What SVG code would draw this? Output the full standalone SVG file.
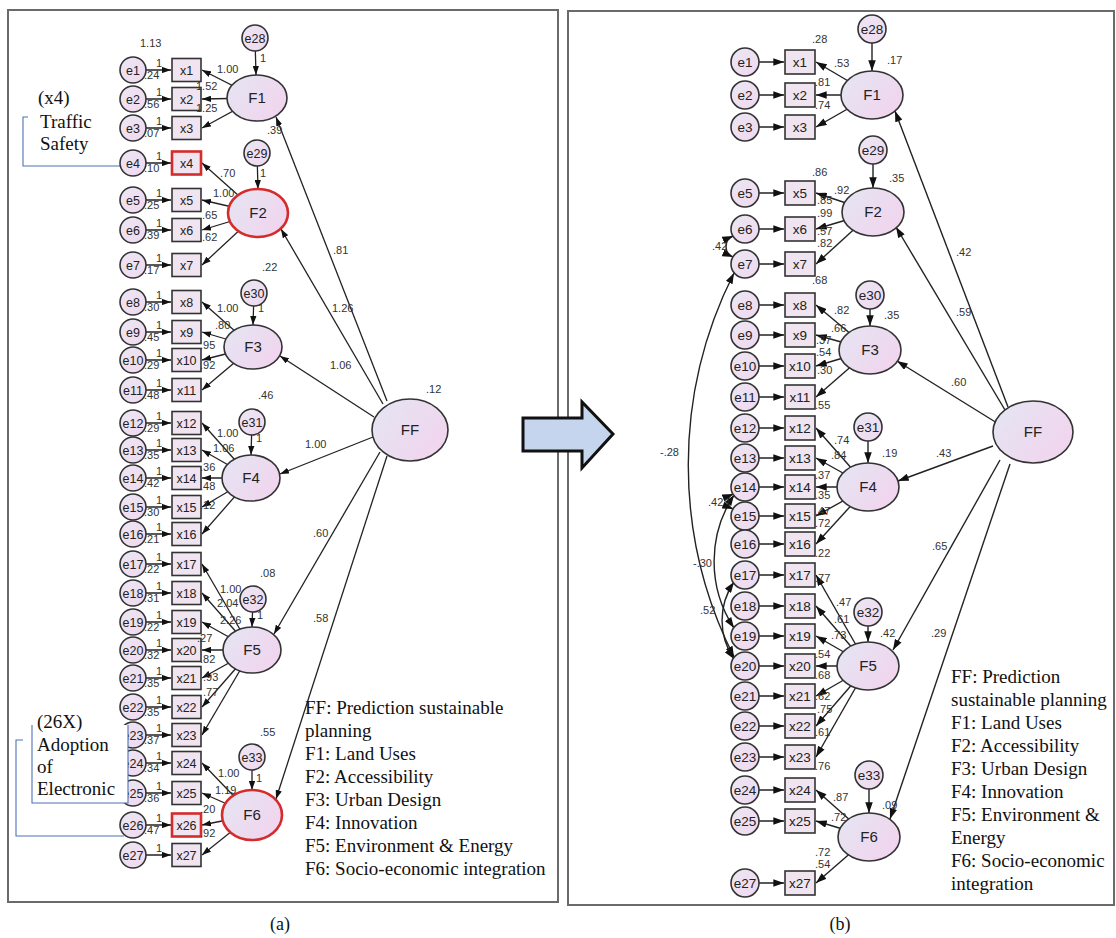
<svg xmlns="http://www.w3.org/2000/svg" width="1116" height="938" viewBox="0 0 1116 938">
<defs>
<linearGradient id="gc" x1="0" y1="0" x2="1" y2="1"><stop offset="0" stop-color="#ebe7f3"/><stop offset="1" stop-color="#f0d8ef"/></linearGradient>
<linearGradient id="ge" x1="0" y1="0" x2="1" y2="0.6"><stop offset="0" stop-color="#e4e6f3"/><stop offset="1" stop-color="#f1d5ee"/></linearGradient>
<marker id="ah" viewBox="0 0 10 7" refX="10" refY="3.5" markerWidth="9" markerHeight="6.5" markerUnits="userSpaceOnUse" orient="auto-start-reverse"><path d="M0,0 L10,3.5 L0,7 z" fill="#111"/></marker>
<marker id="ah2" viewBox="0 0 10 7" refX="10" refY="3.5" markerWidth="11" markerHeight="7.5" markerUnits="userSpaceOnUse" orient="auto-start-reverse"><path d="M0,0 L10,3.5 L0,7 z" fill="#111"/></marker>
</defs>
<style>
.ce{fill:url(#gc);stroke:#333;stroke-width:1.6}
.bx{fill:#efe4ef;stroke:#333;stroke-width:1.6}
.la{fill:url(#ge);stroke:#333;stroke-width:1.6}
.rd{stroke:#d42b2b;stroke-width:2.6}
.nt{font-family:"Liberation Sans",Arial,sans-serif;font-size:12.5px;text-anchor:middle;fill:#222}
.nr{font-family:"Liberation Sans",Arial,sans-serif;font-size:13.5px;text-anchor:middle;fill:#222}
.ft{font-family:"Liberation Sans",Arial,sans-serif;font-size:15px;text-anchor:middle;fill:#222}
.sm{font-family:"Liberation Sans",Arial,sans-serif;font-size:11px;fill:#333}
.lg{font-family:"Liberation Serif","Times New Roman",serif;font-size:19px;fill:#111}
.cn line,.cn path{stroke:#222;stroke-width:1.3;fill:none;marker-end:url(#ah)}
.cr line,.cr path{stroke:#222;stroke-width:1.4;fill:none;marker-end:url(#ah2)}
.cr path.arc{marker-start:url(#ah2)}
.br{stroke:#4f72b5;stroke-width:1.1;fill:none}
.pn{fill:#fff;stroke:#6a6a6a;stroke-width:2}
</style>
<rect width="1116" height="938" fill="#fff"/>
<rect class="pn" x="8" y="10" width="550" height="892"/>
<rect class="pn" x="568" y="11" width="546" height="894"/>
<path class="br" d="M28,117 H23 V166 H122"/>
<path class="br" d="M23,740 H16 V836 H124"/>

<g id="connectors-left" class="cn">
<line x1="133" y1="70" x2="171" y2="70"/><line x1="133" y1="99" x2="171" y2="99"/><line x1="133" y1="128" x2="171" y2="128"/><line x1="133" y1="163" x2="171" y2="163"/><line x1="133" y1="200" x2="171" y2="200"/><line x1="133" y1="230" x2="171" y2="230"/><line x1="133" y1="265" x2="171" y2="265"/><line x1="133" y1="302" x2="171" y2="302"/><line x1="133" y1="332" x2="171" y2="332"/><line x1="133" y1="360" x2="171" y2="360"/><line x1="133" y1="390" x2="171" y2="390"/><line x1="133" y1="423" x2="171" y2="423"/><line x1="133" y1="450" x2="171" y2="450"/><line x1="133" y1="478" x2="171" y2="478"/><line x1="133" y1="507" x2="171" y2="507"/><line x1="133" y1="534" x2="171" y2="534"/><line x1="133" y1="564" x2="171" y2="564"/><line x1="133" y1="593" x2="171" y2="593"/><line x1="133" y1="622" x2="171" y2="622"/><line x1="133" y1="650" x2="171" y2="650"/><line x1="133" y1="678" x2="171" y2="678"/><line x1="133" y1="707" x2="171" y2="707"/><line x1="133" y1="735" x2="171" y2="735"/><line x1="133" y1="763" x2="171" y2="763"/><line x1="133" y1="793" x2="171" y2="793"/><line x1="133" y1="825" x2="171" y2="825"/><line x1="133" y1="855" x2="171" y2="855"/>
<line x1="257" y1="98" x2="202" y2="70"/><line x1="257" y1="98" x2="202" y2="99"/><line x1="257" y1="98" x2="202" y2="128"/>
<line x1="258" y1="213" x2="202" y2="163"/><line x1="258" y1="213" x2="202" y2="200"/><line x1="258" y1="213" x2="202" y2="230"/><line x1="258" y1="213" x2="202" y2="265"/>
<line x1="253" y1="347" x2="202" y2="302"/><line x1="253" y1="347" x2="202" y2="332"/><line x1="253" y1="347" x2="202" y2="360"/><line x1="253" y1="347" x2="202" y2="390"/>
<line x1="251" y1="478" x2="202" y2="423"/><line x1="251" y1="478" x2="202" y2="450"/><line x1="251" y1="478" x2="202" y2="478"/><line x1="251" y1="478" x2="202" y2="507"/><line x1="251" y1="478" x2="202" y2="534"/>
<line x1="252" y1="650" x2="202" y2="564"/><line x1="252" y1="650" x2="202" y2="593"/><line x1="252" y1="650" x2="202" y2="622"/><line x1="252" y1="650" x2="202" y2="650"/><line x1="252" y1="650" x2="202" y2="678"/><line x1="252" y1="650" x2="202" y2="707"/><line x1="252" y1="650" x2="202" y2="735"/>
<line x1="252" y1="815" x2="202" y2="763"/><line x1="252" y1="815" x2="202" y2="793"/><line x1="252" y1="815" x2="202" y2="825"/><line x1="252" y1="815" x2="202" y2="855"/>
<line x1="255" y1="38" x2="256" y2="75"/><line x1="257" y1="153" x2="258" y2="189"/><line x1="254" y1="293" x2="253" y2="325"/><line x1="252" y1="422" x2="251" y2="455"/><line x1="253" y1="599" x2="252" y2="627"/><line x1="252" y1="757" x2="252" y2="790"/>
<line x1="387" y1="401" x2="276" y2="117"/><line x1="383" y1="404" x2="281" y2="229"/><line x1="374" y1="417" x2="280" y2="356"/><line x1="373" y1="437" x2="280" y2="474"/><line x1="380" y1="452" x2="274" y2="634"/><line x1="387" y1="456" x2="276" y2="799"/>
</g>

<g id="connectors-right" class="cr">
<line x1="745" y1="62" x2="784" y2="62"/><line x1="745" y1="95" x2="784" y2="95"/><line x1="745" y1="127" x2="784" y2="127"/><line x1="745" y1="193" x2="784" y2="193"/><line x1="745" y1="229" x2="784" y2="229"/><line x1="745" y1="264" x2="784" y2="264"/><line x1="745" y1="305" x2="784" y2="305"/><line x1="745" y1="335" x2="784" y2="335"/><line x1="745" y1="366" x2="784" y2="366"/><line x1="745" y1="397" x2="784" y2="397"/><line x1="745" y1="428" x2="784" y2="428"/><line x1="745" y1="458" x2="784" y2="458"/><line x1="745" y1="487" x2="784" y2="487"/><line x1="745" y1="516" x2="784" y2="516"/><line x1="745" y1="544" x2="784" y2="544"/><line x1="745" y1="575" x2="784" y2="575"/><line x1="745" y1="606" x2="784" y2="606"/><line x1="745" y1="636" x2="784" y2="636"/><line x1="745" y1="666" x2="784" y2="666"/><line x1="745" y1="696" x2="784" y2="696"/><line x1="745" y1="726" x2="784" y2="726"/><line x1="745" y1="757" x2="784" y2="757"/><line x1="745" y1="790" x2="784" y2="790"/><line x1="745" y1="821" x2="784" y2="821"/><line x1="745" y1="883" x2="784" y2="883"/>
<line x1="872" y1="95" x2="816" y2="62"/><line x1="872" y1="95" x2="816" y2="95"/><line x1="872" y1="95" x2="816" y2="127"/>
<line x1="873" y1="212" x2="816" y2="193"/><line x1="873" y1="212" x2="816" y2="229"/><line x1="873" y1="212" x2="816" y2="264"/>
<line x1="870" y1="350" x2="816" y2="305"/><line x1="870" y1="350" x2="816" y2="335"/><line x1="870" y1="350" x2="816" y2="366"/><line x1="870" y1="350" x2="816" y2="397"/>
<line x1="868" y1="487" x2="816" y2="428"/><line x1="868" y1="487" x2="816" y2="458"/><line x1="868" y1="487" x2="816" y2="487"/><line x1="868" y1="487" x2="816" y2="516"/><line x1="868" y1="487" x2="816" y2="544"/>
<line x1="868" y1="666" x2="816" y2="575"/><line x1="868" y1="666" x2="816" y2="606"/><line x1="868" y1="666" x2="816" y2="636"/><line x1="868" y1="666" x2="816" y2="666"/><line x1="868" y1="666" x2="816" y2="696"/><line x1="868" y1="666" x2="816" y2="726"/><line x1="868" y1="666" x2="816" y2="757"/>
<line x1="869" y1="837" x2="816" y2="790"/><line x1="869" y1="837" x2="816" y2="821"/><line x1="869" y1="837" x2="816" y2="883"/>
<line x1="872" y1="29" x2="872" y2="71"/><line x1="873" y1="150" x2="873" y2="188"/><line x1="870" y1="295" x2="870" y2="326"/><line x1="868" y1="427" x2="868" y2="463"/><line x1="868" y1="612" x2="868" y2="642"/><line x1="869" y1="775" x2="869" y2="813"/>
<line x1="1008" y1="407" x2="895" y2="111"/><line x1="1005" y1="410" x2="896" y2="227"/><line x1="997" y1="423" x2="897" y2="361"/><line x1="993" y1="446" x2="898" y2="481"/><line x1="1000" y1="460" x2="893" y2="650"/><line x1="1010" y1="464" x2="890" y2="819"/>
<path class="arc" d="M734,273 A426,426 0 0 0 734,657"/>
<path class="arc" d="M734,495 A121,121 0 0 0 734,628"/>
<path class="arc" d="M734,582 A68,68 0 0 0 734,659"/>
<path class="arc" d="M733,236 A11.4,11.4 0 0 0 733,257"/>
<path class="arc" d="M733,494 A8.1,8.1 0 0 0 733,509"/>
</g>

<g id="nodes-left">
<g id="L-e1"><circle class="ce" cx="133" cy="70" r="13"/><text class="nt" x="133" y="74.5">e1</text></g>
<g id="L-e2"><circle class="ce" cx="133" cy="99" r="13"/><text class="nt" x="133" y="103.5">e2</text></g>
<g id="L-e3"><circle class="ce" cx="133" cy="128" r="13"/><text class="nt" x="133" y="132.5">e3</text></g>
<g id="L-e4"><circle class="ce" cx="133" cy="163" r="13"/><text class="nt" x="133" y="167.5">e4</text></g>
<g id="L-e5"><circle class="ce" cx="133" cy="200" r="13"/><text class="nt" x="133" y="204.5">e5</text></g>
<g id="L-e6"><circle class="ce" cx="133" cy="230" r="13"/><text class="nt" x="133" y="234.5">e6</text></g>
<g id="L-e7"><circle class="ce" cx="133" cy="265" r="13"/><text class="nt" x="133" y="269.5">e7</text></g>
<g id="L-e8"><circle class="ce" cx="133" cy="302" r="13"/><text class="nt" x="133" y="306.5">e8</text></g>
<g id="L-e9"><circle class="ce" cx="133" cy="332" r="13"/><text class="nt" x="133" y="336.5">e9</text></g>
<g id="L-e10"><circle class="ce" cx="133" cy="360" r="13"/><text class="nt" x="133" y="364.5">e10</text></g>
<g id="L-e11"><circle class="ce" cx="133" cy="390" r="13"/><text class="nt" x="133" y="394.5">e11</text></g>
<g id="L-e12"><circle class="ce" cx="133" cy="423" r="13"/><text class="nt" x="133" y="427.5">e12</text></g>
<g id="L-e13"><circle class="ce" cx="133" cy="450" r="13"/><text class="nt" x="133" y="454.5">e13</text></g>
<g id="L-e14"><circle class="ce" cx="133" cy="478" r="13"/><text class="nt" x="133" y="482.5">e14</text></g>
<g id="L-e15"><circle class="ce" cx="133" cy="507" r="13"/><text class="nt" x="133" y="511.5">e15</text></g>
<g id="L-e16"><circle class="ce" cx="133" cy="534" r="13"/><text class="nt" x="133" y="538.5">e16</text></g>
<g id="L-e17"><circle class="ce" cx="133" cy="564" r="13"/><text class="nt" x="133" y="568.5">e17</text></g>
<g id="L-e18"><circle class="ce" cx="133" cy="593" r="13"/><text class="nt" x="133" y="597.5">e18</text></g>
<g id="L-e19"><circle class="ce" cx="133" cy="622" r="13"/><text class="nt" x="133" y="626.5">e19</text></g>
<g id="L-e20"><circle class="ce" cx="133" cy="650" r="13"/><text class="nt" x="133" y="654.5">e20</text></g>
<g id="L-e21"><circle class="ce" cx="133" cy="678" r="13"/><text class="nt" x="133" y="682.5">e21</text></g>
<g id="L-e22"><circle class="ce" cx="133" cy="707" r="13"/><text class="nt" x="133" y="711.5">e22</text></g>
<g id="L-e23"><circle class="ce" cx="133" cy="735" r="13"/><text class="nt" x="133" y="739.5">e23</text></g>
<g id="L-e24"><circle class="ce" cx="133" cy="763" r="13"/><text class="nt" x="133" y="767.5">e24</text></g>
<g id="L-e25"><circle class="ce" cx="133" cy="793" r="13"/><text class="nt" x="133" y="797.5">e25</text></g>
<g id="L-e26"><circle class="ce" cx="133" cy="825" r="13"/><text class="nt" x="133" y="829.5">e26</text></g>
<g id="L-e27"><circle class="ce" cx="133" cy="855" r="13"/><text class="nt" x="133" y="859.5">e27</text></g>
<g id="L-x1"><rect class="bx" x="172" y="58.5" width="29" height="23"/><text class="nt" x="186.5" y="74.5">x1</text></g>
<g id="L-x2"><rect class="bx" x="172" y="87.5" width="29" height="23"/><text class="nt" x="186.5" y="103.5">x2</text></g>
<g id="L-x3"><rect class="bx" x="172" y="116.5" width="29" height="23"/><text class="nt" x="186.5" y="132.5">x3</text></g>
<g id="L-x4"><rect class="bx rd" x="172" y="151.5" width="29" height="23"/><text class="nt" x="186.5" y="167.5">x4</text></g>
<g id="L-x5"><rect class="bx" x="172" y="188.5" width="29" height="23"/><text class="nt" x="186.5" y="204.5">x5</text></g>
<g id="L-x6"><rect class="bx" x="172" y="218.5" width="29" height="23"/><text class="nt" x="186.5" y="234.5">x6</text></g>
<g id="L-x7"><rect class="bx" x="172" y="253.5" width="29" height="23"/><text class="nt" x="186.5" y="269.5">x7</text></g>
<g id="L-x8"><rect class="bx" x="172" y="290.5" width="29" height="23"/><text class="nt" x="186.5" y="306.5">x8</text></g>
<g id="L-x9"><rect class="bx" x="172" y="320.5" width="29" height="23"/><text class="nt" x="186.5" y="336.5">x9</text></g>
<g id="L-x10"><rect class="bx" x="172" y="348.5" width="29" height="23"/><text class="nt" x="186.5" y="364.5">x10</text></g>
<g id="L-x11"><rect class="bx" x="172" y="378.5" width="29" height="23"/><text class="nt" x="186.5" y="394.5">x11</text></g>
<g id="L-x12"><rect class="bx" x="172" y="411.5" width="29" height="23"/><text class="nt" x="186.5" y="427.5">x12</text></g>
<g id="L-x13"><rect class="bx" x="172" y="438.5" width="29" height="23"/><text class="nt" x="186.5" y="454.5">x13</text></g>
<g id="L-x14"><rect class="bx" x="172" y="466.5" width="29" height="23"/><text class="nt" x="186.5" y="482.5">x14</text></g>
<g id="L-x15"><rect class="bx" x="172" y="495.5" width="29" height="23"/><text class="nt" x="186.5" y="511.5">x15</text></g>
<g id="L-x16"><rect class="bx" x="172" y="522.5" width="29" height="23"/><text class="nt" x="186.5" y="538.5">x16</text></g>
<g id="L-x17"><rect class="bx" x="172" y="552.5" width="29" height="23"/><text class="nt" x="186.5" y="568.5">x17</text></g>
<g id="L-x18"><rect class="bx" x="172" y="581.5" width="29" height="23"/><text class="nt" x="186.5" y="597.5">x18</text></g>
<g id="L-x19"><rect class="bx" x="172" y="610.5" width="29" height="23"/><text class="nt" x="186.5" y="626.5">x19</text></g>
<g id="L-x20"><rect class="bx" x="172" y="638.5" width="29" height="23"/><text class="nt" x="186.5" y="654.5">x20</text></g>
<g id="L-x21"><rect class="bx" x="172" y="666.5" width="29" height="23"/><text class="nt" x="186.5" y="682.5">x21</text></g>
<g id="L-x22"><rect class="bx" x="172" y="695.5" width="29" height="23"/><text class="nt" x="186.5" y="711.5">x22</text></g>
<g id="L-x23"><rect class="bx" x="172" y="723.5" width="29" height="23"/><text class="nt" x="186.5" y="739.5">x23</text></g>
<g id="L-x24"><rect class="bx" x="172" y="751.5" width="29" height="23"/><text class="nt" x="186.5" y="767.5">x24</text></g>
<g id="L-x25"><rect class="bx" x="172" y="781.5" width="29" height="23"/><text class="nt" x="186.5" y="797.5">x25</text></g>
<g id="L-x26"><rect class="bx rd" x="172" y="813.5" width="29" height="23"/><text class="nt" x="186.5" y="829.5">x26</text></g>
<g id="L-x27"><rect class="bx" x="172" y="843.5" width="29" height="23"/><text class="nt" x="186.5" y="859.5">x27</text></g>
<g id="L-e28"><circle class="ce" cx="255" cy="38" r="13"/><text class="nt" x="255" y="42.5">e28</text></g>
<g id="L-e29"><circle class="ce" cx="257" cy="153" r="13"/><text class="nt" x="257" y="157.5">e29</text></g>
<g id="L-e30"><circle class="ce" cx="254" cy="293" r="13"/><text class="nt" x="254" y="297.5">e30</text></g>
<g id="L-e31"><circle class="ce" cx="252" cy="422" r="13"/><text class="nt" x="252" y="426.5">e31</text></g>
<g id="L-e32"><circle class="ce" cx="253" cy="599" r="13"/><text class="nt" x="253" y="603.5">e32</text></g>
<g id="L-e33"><circle class="ce" cx="252" cy="757" r="13"/><text class="nt" x="252" y="761.5">e33</text></g>
<g id="L-F1"><ellipse class="la" cx="257" cy="98" rx="30" ry="23"/><text class="ft" x="257" y="103">F1</text></g>
<g id="L-F2"><ellipse class="la rd" cx="258" cy="213" rx="30" ry="24"/><text class="ft" x="258" y="218">F2</text></g>
<g id="L-F3"><ellipse class="la" cx="253" cy="347" rx="29" ry="22"/><text class="ft" x="253" y="352">F3</text></g>
<g id="L-F4"><ellipse class="la" cx="251" cy="478" rx="29" ry="23"/><text class="ft" x="251" y="483">F4</text></g>
<g id="L-F5"><ellipse class="la" cx="252" cy="650" rx="29" ry="23"/><text class="ft" x="252" y="655">F5</text></g>
<g id="L-F6"><ellipse class="la rd" cx="252" cy="815" rx="30" ry="25"/><text class="ft" x="252" y="820">F6</text></g>
<g id="L-FF"><ellipse class="la" cx="410" cy="430" rx="38" ry="31"/><text class="ft" x="410" y="435">FF</text></g>
</g>

<g id="nodes-right">
<g id="R-e1"><circle class="ce" cx="745" cy="62" r="14"/><text class="nr" x="745" y="67">e1</text></g>
<g id="R-e2"><circle class="ce" cx="745" cy="95" r="14"/><text class="nr" x="745" y="100">e2</text></g>
<g id="R-e3"><circle class="ce" cx="745" cy="127" r="14"/><text class="nr" x="745" y="132">e3</text></g>
<g id="R-e5"><circle class="ce" cx="745" cy="193" r="14"/><text class="nr" x="745" y="198">e5</text></g>
<g id="R-e6"><circle class="ce" cx="745" cy="229" r="14"/><text class="nr" x="745" y="234">e6</text></g>
<g id="R-e7"><circle class="ce" cx="745" cy="264" r="14"/><text class="nr" x="745" y="269">e7</text></g>
<g id="R-e8"><circle class="ce" cx="745" cy="305" r="14"/><text class="nr" x="745" y="310">e8</text></g>
<g id="R-e9"><circle class="ce" cx="745" cy="335" r="14"/><text class="nr" x="745" y="340">e9</text></g>
<g id="R-e10"><circle class="ce" cx="745" cy="366" r="14"/><text class="nr" x="745" y="371">e10</text></g>
<g id="R-e11"><circle class="ce" cx="745" cy="397" r="14"/><text class="nr" x="745" y="402">e11</text></g>
<g id="R-e12"><circle class="ce" cx="745" cy="428" r="14"/><text class="nr" x="745" y="433">e12</text></g>
<g id="R-e13"><circle class="ce" cx="745" cy="458" r="14"/><text class="nr" x="745" y="463">e13</text></g>
<g id="R-e14"><circle class="ce" cx="745" cy="487" r="14"/><text class="nr" x="745" y="492">e14</text></g>
<g id="R-e15"><circle class="ce" cx="745" cy="516" r="14"/><text class="nr" x="745" y="521">e15</text></g>
<g id="R-e16"><circle class="ce" cx="745" cy="544" r="14"/><text class="nr" x="745" y="549">e16</text></g>
<g id="R-e17"><circle class="ce" cx="745" cy="575" r="14"/><text class="nr" x="745" y="580">e17</text></g>
<g id="R-e18"><circle class="ce" cx="745" cy="606" r="14"/><text class="nr" x="745" y="611">e18</text></g>
<g id="R-e19"><circle class="ce" cx="745" cy="636" r="14"/><text class="nr" x="745" y="641">e19</text></g>
<g id="R-e20"><circle class="ce" cx="745" cy="666" r="14"/><text class="nr" x="745" y="671">e20</text></g>
<g id="R-e21"><circle class="ce" cx="745" cy="696" r="14"/><text class="nr" x="745" y="701">e21</text></g>
<g id="R-e22"><circle class="ce" cx="745" cy="726" r="14"/><text class="nr" x="745" y="731">e22</text></g>
<g id="R-e23"><circle class="ce" cx="745" cy="757" r="14"/><text class="nr" x="745" y="762">e23</text></g>
<g id="R-e24"><circle class="ce" cx="745" cy="790" r="14"/><text class="nr" x="745" y="795">e24</text></g>
<g id="R-e25"><circle class="ce" cx="745" cy="821" r="14"/><text class="nr" x="745" y="826">e25</text></g>
<g id="R-e27"><circle class="ce" cx="745" cy="883" r="14"/><text class="nr" x="745" y="888">e27</text></g>
<g id="R-x1"><rect class="bx" x="785" y="50" width="30" height="24"/><text class="nr" x="800" y="67">x1</text></g>
<g id="R-x2"><rect class="bx" x="785" y="83" width="30" height="24"/><text class="nr" x="800" y="100">x2</text></g>
<g id="R-x3"><rect class="bx" x="785" y="115" width="30" height="24"/><text class="nr" x="800" y="132">x3</text></g>
<g id="R-x5"><rect class="bx" x="785" y="181" width="30" height="24"/><text class="nr" x="800" y="198">x5</text></g>
<g id="R-x6"><rect class="bx" x="785" y="217" width="30" height="24"/><text class="nr" x="800" y="234">x6</text></g>
<g id="R-x7"><rect class="bx" x="785" y="252" width="30" height="24"/><text class="nr" x="800" y="269">x7</text></g>
<g id="R-x8"><rect class="bx" x="785" y="293" width="30" height="24"/><text class="nr" x="800" y="310">x8</text></g>
<g id="R-x9"><rect class="bx" x="785" y="323" width="30" height="24"/><text class="nr" x="800" y="340">x9</text></g>
<g id="R-x10"><rect class="bx" x="785" y="354" width="30" height="24"/><text class="nr" x="800" y="371">x10</text></g>
<g id="R-x11"><rect class="bx" x="785" y="385" width="30" height="24"/><text class="nr" x="800" y="402">x11</text></g>
<g id="R-x12"><rect class="bx" x="785" y="416" width="30" height="24"/><text class="nr" x="800" y="433">x12</text></g>
<g id="R-x13"><rect class="bx" x="785" y="446" width="30" height="24"/><text class="nr" x="800" y="463">x13</text></g>
<g id="R-x14"><rect class="bx" x="785" y="475" width="30" height="24"/><text class="nr" x="800" y="492">x14</text></g>
<g id="R-x15"><rect class="bx" x="785" y="504" width="30" height="24"/><text class="nr" x="800" y="521">x15</text></g>
<g id="R-x16"><rect class="bx" x="785" y="532" width="30" height="24"/><text class="nr" x="800" y="549">x16</text></g>
<g id="R-x17"><rect class="bx" x="785" y="563" width="30" height="24"/><text class="nr" x="800" y="580">x17</text></g>
<g id="R-x18"><rect class="bx" x="785" y="594" width="30" height="24"/><text class="nr" x="800" y="611">x18</text></g>
<g id="R-x19"><rect class="bx" x="785" y="624" width="30" height="24"/><text class="nr" x="800" y="641">x19</text></g>
<g id="R-x20"><rect class="bx" x="785" y="654" width="30" height="24"/><text class="nr" x="800" y="671">x20</text></g>
<g id="R-x21"><rect class="bx" x="785" y="684" width="30" height="24"/><text class="nr" x="800" y="701">x21</text></g>
<g id="R-x22"><rect class="bx" x="785" y="714" width="30" height="24"/><text class="nr" x="800" y="731">x22</text></g>
<g id="R-x23"><rect class="bx" x="785" y="745" width="30" height="24"/><text class="nr" x="800" y="762">x23</text></g>
<g id="R-x24"><rect class="bx" x="785" y="778" width="30" height="24"/><text class="nr" x="800" y="795">x24</text></g>
<g id="R-x25"><rect class="bx" x="785" y="809" width="30" height="24"/><text class="nr" x="800" y="826">x25</text></g>
<g id="R-x27"><rect class="bx" x="785" y="871" width="30" height="24"/><text class="nr" x="800" y="888">x27</text></g>
<g id="R-e28"><circle class="ce" cx="872" cy="29" r="14"/><text class="nr" x="872" y="34">e28</text></g>
<g id="R-e29"><circle class="ce" cx="873" cy="150" r="14"/><text class="nr" x="873" y="155">e29</text></g>
<g id="R-e30"><circle class="ce" cx="870" cy="295" r="14"/><text class="nr" x="870" y="300">e30</text></g>
<g id="R-e31"><circle class="ce" cx="868" cy="427" r="14"/><text class="nr" x="868" y="432">e31</text></g>
<g id="R-e32"><circle class="ce" cx="868" cy="612" r="14"/><text class="nr" x="868" y="617">e32</text></g>
<g id="R-e33"><circle class="ce" cx="869" cy="775" r="14"/><text class="nr" x="869" y="780">e33</text></g>
<g id="R-F1"><ellipse class="la" cx="872" cy="95" rx="31" ry="24"/><text class="ft" x="872" y="100">F1</text></g>
<g id="R-F2"><ellipse class="la" cx="873" cy="212" rx="31" ry="24"/><text class="ft" x="873" y="217">F2</text></g>
<g id="R-F3"><ellipse class="la" cx="870" cy="350" rx="31" ry="24"/><text class="ft" x="870" y="355">F3</text></g>
<g id="R-F4"><ellipse class="la" cx="868" cy="487" rx="31" ry="24"/><text class="ft" x="868" y="492">F4</text></g>
<g id="R-F5"><ellipse class="la" cx="868" cy="666" rx="31" ry="24"/><text class="ft" x="868" y="671">F5</text></g>
<g id="R-F6"><ellipse class="la" cx="869" cy="837" rx="31" ry="24"/><text class="ft" x="869" y="842">F6</text></g>
<g id="R-FF"><ellipse class="la" cx="1033" cy="432" rx="40" ry="31"/><text class="ft" x="1033" y="437">FF</text></g>
</g>

<g id="callouts">
<rect x="32" y="725" width="96" height="78" fill="#fff"/>
<path class="br" d="M32,725 V803 H128 V725"/>
<g class="lg"><text x="38" y="104">(x4)</text><text x="40" y="128">Traffic</text><text x="40" y="150">Safety</text>
<text x="37" y="728">(26X)</text><text x="37" y="751">Adoption</text><text x="37" y="773">of</text><text x="37" y="795">Electronic</text></g>
</g>

<g id="labels-left" class="sm">
<text x="140" y="47">1.13</text>
<text x="144" y="79">.24</text><text x="144" y="108">.56</text><text x="144" y="137">.07</text><text x="144" y="172">.10</text><text x="144" y="209">.25</text><text x="144" y="239">.39</text><text x="144" y="274">.17</text><text x="144" y="311">.30</text><text x="144" y="341">.45</text><text x="144" y="369">.29</text><text x="144" y="399">.48</text><text x="144" y="432">.29</text><text x="144" y="459">.35</text><text x="144" y="487">.42</text><text x="144" y="516">.30</text><text x="144" y="543">.21</text><text x="144" y="573">.22</text><text x="144" y="602">.31</text><text x="144" y="631">.22</text><text x="144" y="659">.32</text><text x="144" y="687">.35</text><text x="144" y="716">.35</text><text x="144" y="744">.37</text><text x="144" y="772">.34</text><text x="144" y="802">.36</text><text x="144" y="834">.47</text>
<text x="156" y="67">1</text><text x="156" y="96">1</text><text x="156" y="125">1</text><text x="156" y="160">1</text><text x="156" y="197">1</text><text x="156" y="227">1</text><text x="156" y="262">1</text><text x="156" y="299">1</text><text x="156" y="329">1</text><text x="156" y="357">1</text><text x="156" y="387">1</text><text x="156" y="420">1</text><text x="156" y="447">1</text><text x="156" y="475">1</text><text x="156" y="504">1</text><text x="156" y="531">1</text><text x="156" y="561">1</text><text x="156" y="590">1</text><text x="156" y="619">1</text><text x="156" y="647">1</text><text x="156" y="675">1</text><text x="156" y="704">1</text><text x="156" y="732">1</text><text x="156" y="760">1</text><text x="156" y="790">1</text><text x="156" y="822">1</text><text x="156" y="852">1</text>
<text x="217" y="73">1.00</text><text x="196" y="90">1.52</text><text x="196" y="112">1.25</text><text x="267" y="134">.39</text><text x="260" y="62">1</text>
<text x="220" y="177">.70</text><text x="213" y="197">1.00</text><text x="202" y="219">.65</text><text x="202" y="241">.62</text><text x="260" y="177">1</text><text x="262" y="271">.22</text>
<text x="217" y="312">1.00</text><text x="215" y="329">.80</text><text x="200" y="349">.95</text><text x="200" y="369">.92</text><text x="258" y="312">1</text><text x="258" y="399">.46</text>
<text x="217" y="437">1.00</text><text x="213" y="452">1.06</text><text x="200" y="471">.36</text><text x="200" y="490">.48</text><text x="200" y="509">.12</text><text x="256" y="442">1</text><text x="260" y="577">.08</text>
<text x="220" y="593">1.00</text><text x="217" y="607">2.04</text><text x="220" y="624">2.26</text><text x="197" y="642">.27</text><text x="200" y="663">.82</text><text x="203" y="681">.93</text><text x="203" y="696">.77</text><text x="257" y="619">1</text><text x="260" y="736">.55</text>
<text x="218" y="777">1.00</text><text x="215" y="794">1.19</text><text x="200" y="813">.20</text><text x="200" y="837">.92</text><text x="256" y="782">1</text>
<text x="333" y="254">.81</text><text x="332" y="312">1.26</text><text x="330" y="369">1.06</text><text x="305" y="448">1.00</text><text x="313" y="537">.60</text><text x="313" y="622">.58</text><text x="426" y="393">.12</text>
</g>

<g id="labels-right" class="sm">
<text x="812" y="43">.28</text><text x="887" y="64">.17</text><text x="834" y="67">.53</text><text x="815" y="86">.81</text><text x="815" y="109">.74</text>
<text x="812" y="176">.86</text><text x="889" y="182">.35</text><text x="834" y="194">.92</text><text x="817" y="204">.85</text><text x="817" y="217">.99</text><text x="817" y="235">.57</text><text x="817" y="247">.82</text><text x="812" y="284">.68</text>
<text x="712" y="250">.42</text>
<text x="834" y="314">.82</text><text x="884" y="319">.35</text><text x="831" y="332">.66</text><text x="816" y="344">.37</text><text x="816" y="356">.54</text><text x="817" y="374">.30</text><text x="815" y="409">.55</text>
<text x="834" y="444">.74</text><text x="882" y="457">.19</text><text x="831" y="459">.84</text><text x="815" y="479">.37</text><text x="815" y="499">.35</text><text x="815" y="515">.47</text><text x="815" y="527">.72</text><text x="815" y="557">.22</text>
<text x="708" y="506">.42</text>
<text x="660" y="456">-.28</text><text x="693" y="567">-.30</text><text x="700" y="614">.52</text>
<text x="815" y="582">.77</text><text x="836" y="606">.47</text><text x="834" y="623">.61</text><text x="880" y="637">.42</text><text x="831" y="639">.73</text><text x="815" y="658">.54</text><text x="815" y="679">.68</text><text x="815" y="700">.62</text><text x="817" y="713">.75</text><text x="815" y="736">.61</text><text x="815" y="770">.76</text>
<text x="833" y="801">.87</text><text x="831" y="821">.72</text><text x="882" y="809">.09</text><text x="815" y="856">.72</text><text x="815" y="868">.54</text>
<text x="956" y="256">.42</text><text x="956" y="316">.59</text><text x="951" y="386">.60</text><text x="936" y="457">.43</text><text x="932" y="550">.65</text><text x="931" y="637">.29</text>
</g>

<g id="legend-left" class="lg">
<text x="305" y="714">FF: Prediction sustainable</text>
<text x="305" y="737">planning</text>
<text x="305" y="760">F1: Land Uses</text>
<text x="305" y="783">F2: Accessibility</text>
<text x="305" y="806">F3: Urban Design</text>
<text x="305" y="829">F4: Innovation</text>
<text x="305" y="852">F5: Environment &amp; Energy</text>
<text x="305" y="875">F6: Socio-economic integration</text>
</g>
<g id="legend-right" class="lg">
<text x="951" y="683">FF: Prediction</text>
<text x="951" y="706">sustainable planning</text>
<text x="951" y="729">F1: Land Uses</text>
<text x="951" y="752">F2: Accessibility</text>
<text x="951" y="775">F3: Urban Design</text>
<text x="951" y="798">F4: Innovation</text>
<text x="951" y="821">F5: Environment &amp;</text>
<text x="951" y="844">Energy</text>
<text x="951" y="867">F6: Socio-economic</text>
<text x="951" y="890">integration</text>
</g>

<g id="transition-arrow"><polygon points="523,418 582,418 582,402 613,434 582,468 582,451 523,451" fill="#c5d5ee" stroke="#111" stroke-width="3"/></g>
<text class="lg" x="280" y="930" text-anchor="middle" style="font-size:18px">(a)</text>
<text class="lg" x="840" y="930" text-anchor="middle" style="font-size:18px">(b)</text>
</svg>
